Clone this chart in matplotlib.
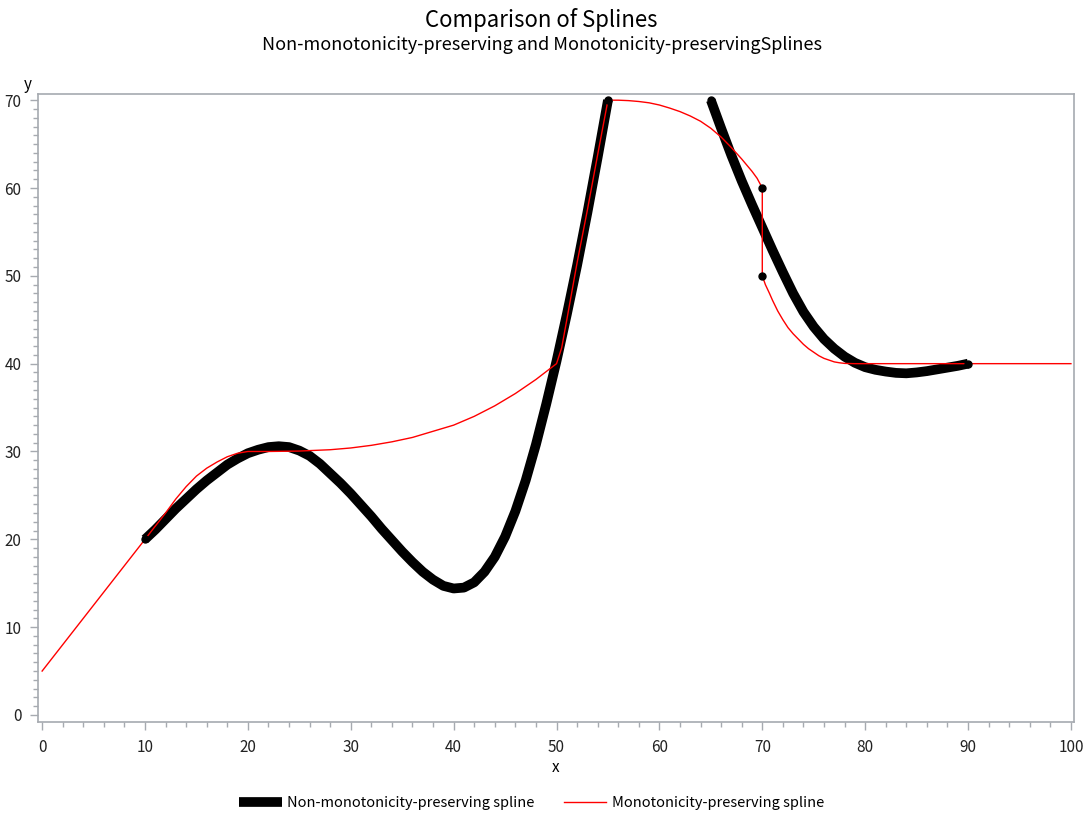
import numpy as np
import matplotlib
matplotlib.use("Agg")
import matplotlib.pyplot as plt
from matplotlib.ticker import MultipleLocator

plt.rcParams['font.family'] = ['Noto Sans CJK JP', 'DejaVu Sans']

# knots of the original data that show as dots
pts_x = [10, 55, 65, 70, 70, 90]
pts_y = [20, 70, 70, 60, 50, 40]

# non-monotonicity-preserving spline, two visible pieces (it runs above y=70 in between)
nm1_x = [10, 11, 12, 13, 14, 15, 16, 17, 18, 19, 20, 21, 22, 23, 24, 25, 26,
         27, 28, 29, 30, 31, 32, 33, 34, 35, 36, 37, 38, 39, 40, 41, 42, 43,
         44, 45, 46, 47, 48, 49, 50, 51, 52, 53, 54, 55]
nm1_y = [20, 21.1, 22.3, 23.5, 24.6, 25.7, 26.7, 27.6, 28.5, 29.2, 29.8, 30.2,
         30.5, 30.6, 30.5, 30.1, 29.5, 28.6, 27.5, 26.4, 25.2, 23.9, 22.6, 21.2,
         19.9, 18.6, 17.4, 16.3, 15.4, 14.7, 14.4, 14.5, 15.1, 16.3, 18, 20.3,
         23.2, 26.7, 30.8, 35.4, 40.3, 45.6, 51.2, 57.2, 63.5, 70]
nm2_x = [65, 66, 67, 68, 69, 70, 71, 72, 73, 74, 75, 76, 77, 78, 79, 80, 81,
         82, 83, 84, 85, 86, 87, 88, 89, 90]
nm2_y = [70, 66.8, 63.7, 60.8, 58.1, 55.5, 52.9, 50.4, 48, 45.9, 44.2, 42.8,
         41.7, 40.8, 40.1, 39.6, 39.3, 39.1, 38.95, 38.9, 39, 39.15, 39.35,
         39.55, 39.75, 40]

# monotonicity-preserving spline
mp_x = [0, 10, 11, 12, 13, 14, 15, 16, 17, 18, 19, 20, 22, 25, 28, 30, 32, 34,
        36, 38, 40, 42, 44, 46, 48, 49, 50, 50.5, 51, 52, 53, 54, 55, 55.5, 56,
        57, 58, 59, 60, 61, 62, 63, 64, 65, 66, 67, 68, 69, 69.5, 70, 70, 70.3,
        70.7, 71, 71.5, 72, 72.5, 73, 73.5, 74, 74.5, 75, 75.5, 76, 76.5, 77,
        77.5, 78, 79, 100]
mp_y = [5, 20, 21.5, 23, 24.6, 26, 27.2, 28.1, 28.8, 29.4, 29.8, 30, 30,
        30.05, 30.2, 30.4, 30.7, 31.1, 31.6, 32.3, 33, 34, 35.2, 36.6, 38.2,
        39.1, 40, 41.8, 45, 51.5, 57.5, 63.8, 70, 70, 70, 69.95, 69.85, 69.7,
        69.45, 69.1, 68.7, 68.2, 67.6, 66.8, 65.8, 64.6, 63.3, 61.9, 61.1, 60,
        50, 49, 48, 47.2, 46, 45, 44.1, 43.4, 42.8, 42.2, 41.7, 41.3, 40.9,
        40.6, 40.4, 40.2, 40.1, 40.03, 40, 40]

fig = plt.figure(figsize=(10.83, 8.17), dpi=100)
ax = fig.add_axes([0.0351, 0.1163, 0.9566, 0.7686])

ax.plot(nm1_x, nm1_y, color='black', lw=7, solid_capstyle='butt',
        solid_joinstyle='round', label='Non-monotonicity-preserving spline')
ax.plot(nm2_x, nm2_y, color='black', lw=7, solid_capstyle='butt',
        solid_joinstyle='round')
ax.plot(mp_x, mp_y, color='red', lw=1.0, label='Monotonicity-preserving spline')
ax.plot(pts_x, pts_y, 'o', color='black', ms=5, zorder=5)

ax.set_xlim(-0.4, 100.3)
ax.set_ylim(-0.8, 70.7)
ax.xaxis.set_major_locator(MultipleLocator(10))
ax.xaxis.set_minor_locator(MultipleLocator(2))
ax.yaxis.set_major_locator(MultipleLocator(10))
ax.yaxis.set_minor_locator(MultipleLocator(1))

gray = '#a6aab0'
for s in ax.spines.values():
    s.set_color(gray)
    s.set_linewidth(1.2)
ax.tick_params(which='both', direction='out', color=gray, top=False, right=False)
ax.tick_params(which='major', length=6, width=1, labelsize=11, labelcolor='#222222', pad=6)
ax.tick_params(which='minor', length=3.5, width=1)

fig.text(0.5, 0.975, 'Comparison of Splines', ha='center', va='center', fontsize=16)
fig.text(0.5, 0.945, 'Non-monotonicity-preserving and Monotonicity-preservingSplines',
         ha='center', va='center', fontsize=13)
fig.text(0.026, 0.897, 'y', ha='center', va='center', fontsize=11)
fig.text(0.513, 0.06, 'x', ha='center', va='center', fontsize=11)

fig.legend(loc='center', bbox_to_anchor=(0.491, 0.017), ncol=2, frameon=False,
           fontsize=10.5, handlelength=2.9, handletextpad=0.4, columnspacing=2.0)

plt.savefig('out.png', dpi=100)
